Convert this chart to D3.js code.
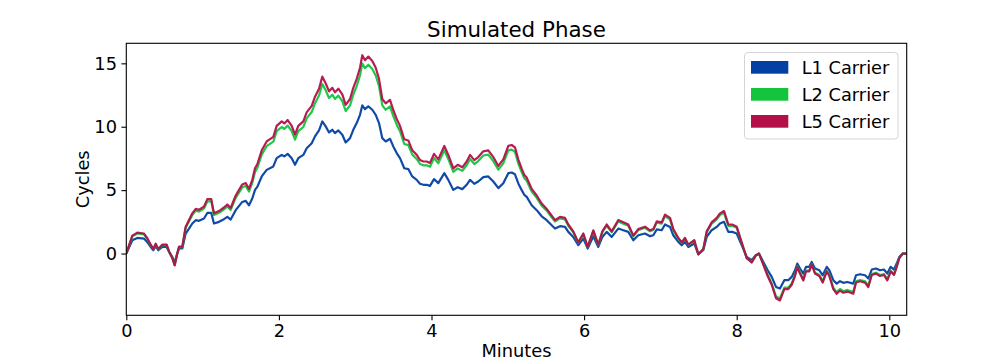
<!DOCTYPE html>
<html>
<head>
<meta charset="utf-8">
<script src="https://cdn.jsdelivr.net/npm/d3@7"></script>
<style>
  html, body { margin: 0; padding: 0; background: #fff; }
  svg { display: block; font-family: "DejaVu Sans", sans-serif; }
</style>
</head>
<body>
<svg id="chart" width="1008" height="360"></svg>
<script>
// ---- data ----
const timeMin = [0.000,0.079,0.144,0.232,0.275,0.320,0.354,0.385,0.419,0.472,0.529,0.560,0.603,0.634,0.668,0.691,0.734,0.778,0.822,0.865,
0.910,0.953,1.018,1.062,1.114,1.149,1.215,1.280,1.324,1.368,1.434,1.520,1.565,1.608,1.651,1.687,1.717,1.775,1.840,1.927,
1.971,2.037,2.071,2.115,2.168,2.211,2.254,2.320,2.364,2.430,2.473,2.526,2.569,2.613,2.657,2.700,2.735,2.779,2.831,2.875,
2.932,2.975,3.020,3.063,3.093,3.128,3.172,3.224,3.269,3.312,3.355,3.400,3.456,3.499,3.544,3.587,3.643,3.696,3.748,3.806,
3.849,3.893,3.937,3.980,4.033,4.089,4.168,4.220,4.286,4.343,4.404,4.461,4.505,4.561,4.613,4.679,4.744,4.810,4.876,4.941,
5.007,5.051,5.094,5.138,5.182,5.216,5.248,5.313,5.379,5.444,5.510,5.575,5.619,5.684,5.750,5.793,5.858,5.924,5.990,6.047,
6.121,6.186,6.239,6.296,6.362,6.448,6.514,6.579,6.645,6.710,6.798,6.864,6.907,6.952,7.017,7.060,7.126,7.169,7.235,7.279,
7.322,7.366,7.444,7.497,7.562,7.607,7.672,7.738,7.781,7.834,7.890,7.942,8.000,8.065,8.131,8.197,8.249,8.292,8.349,8.406,
8.459,8.515,8.567,8.624,8.676,8.721,8.764,8.794,8.830,8.873,8.908,8.951,8.983,9.026,9.083,9.127,9.180,9.214,9.266,9.311,
9.354,9.397,9.450,9.528,9.564,9.616,9.682,9.725,9.770,9.826,9.878,9.930,9.974,10.018,10.062,10.097,10.131,10.176,10.228];

const l1Carrier = [0.00,1.05,1.23,1.18,0.90,0.52,0.26,0.58,0.26,0.52,0.52,0.13,-0.27,-0.70,0.00,0.40,0.40,1.58,1.97,2.37,
2.63,2.58,2.76,3.20,3.20,2.37,2.50,2.71,2.89,2.68,3.42,4.07,4.15,3.81,4.34,5.02,5.26,6.08,6.60,6.87,
7.52,7.78,7.66,7.86,7.52,7.00,7.52,7.78,8.31,8.70,9.24,9.71,10.42,10.03,9.55,9.76,9.50,9.71,9.37,8.76,
9.10,9.76,10.29,10.94,11.68,11.39,11.60,11.34,10.94,10.29,9.10,8.84,9.05,8.45,7.92,7.52,6.73,6.66,6.08,5.81,
5.50,5.42,5.42,5.34,5.87,5.55,6.34,5.81,5.02,5.23,5.08,5.42,5.81,5.50,5.68,6.02,6.08,5.68,5.16,5.55,
6.34,6.39,6.25,5.53,5.00,4.63,4.47,3.81,3.42,2.94,2.63,2.23,1.97,2.16,2.10,1.71,1.31,0.66,1.18,0.39,
1.37,0.52,1.31,1.71,1.31,1.97,1.84,1.71,1.05,1.44,1.58,1.37,1.44,1.90,1.84,2.29,2.10,1.44,0.92,0.66,
0.92,0.52,0.79,-0.05,0.26,1.31,1.84,2.10,2.37,2.50,1.71,1.71,1.58,0.66,-0.27,-0.53,-0.13,0.00,-0.66,-1.32,
-1.84,-2.63,-2.76,-2.10,-2.10,-1.84,-1.32,-0.79,-1.18,-1.58,-1.05,-1.05,-0.66,-1.18,-1.32,-1.71,-1.05,-1.32,-2.10,-2.37,
-2.18,-2.31,-2.24,-2.37,-1.71,-1.63,-1.71,-1.97,-1.26,-1.18,-1.32,-1.26,-1.58,-1.05,-1.26,-0.79,-0.27,0.00,0.00];

const l2Carrier = [0.00,1.35,1.58,1.51,1.15,0.67,0.33,0.74,0.33,0.67,0.67,0.17,-0.35,-0.90,0.00,0.51,0.51,2.03,2.53,3.04,
3.38,3.31,3.54,4.11,4.11,3.04,3.21,3.48,3.71,3.44,4.39,5.22,5.33,4.89,5.57,6.44,6.75,7.80,8.47,8.82,
9.65,9.98,9.83,10.09,9.65,8.98,9.65,9.98,10.66,11.16,11.86,12.46,13.37,12.87,12.26,12.53,12.19,12.46,12.02,11.24,
11.68,12.53,13.21,14.04,14.99,14.62,14.89,14.55,14.04,13.21,11.68,11.34,11.61,10.84,10.16,9.65,8.64,8.55,7.80,7.46,
7.06,6.96,6.96,6.85,7.53,7.12,8.14,7.46,6.44,6.71,6.52,6.96,7.46,7.06,7.29,7.73,7.80,7.29,6.62,7.12,
8.14,8.20,8.02,7.10,6.42,5.94,5.74,4.89,4.39,3.77,3.38,2.86,2.53,2.77,2.69,2.19,1.68,0.85,1.51,0.50,
1.76,0.67,1.68,2.19,1.68,2.53,2.36,2.19,1.35,1.85,2.03,1.76,1.85,2.44,2.36,2.94,2.69,1.85,1.18,0.85,
1.18,0.67,1.01,-0.06,0.33,1.68,2.36,2.69,3.04,3.21,2.19,2.19,2.03,0.85,-0.35,-0.68,-0.17,0.00,-0.85,-1.69,
-2.36,-3.38,-3.54,-2.69,-2.69,-2.36,-1.69,-1.01,-1.51,-2.03,-1.35,-1.35,-0.85,-1.51,-1.69,-2.19,-1.35,-1.69,-2.69,-3.04,
-2.80,-2.96,-2.87,-3.04,-2.19,-2.09,-2.19,-2.53,-1.62,-1.51,-1.69,-1.62,-2.03,-1.35,-1.62,-1.01,-0.35,0.00,0.00];

const l5Carrier = [0.00,1.41,1.65,1.58,1.21,0.70,0.35,0.78,0.35,0.70,0.70,0.17,-0.36,-0.94,0.00,0.54,0.54,2.12,2.64,3.17,
3.52,3.45,3.70,4.29,4.29,3.17,3.35,3.63,3.87,3.59,4.58,5.45,5.56,5.10,5.81,6.72,7.04,8.14,8.84,9.20,
10.07,10.42,10.26,10.53,10.07,9.37,10.07,10.42,11.13,11.65,12.37,13.00,13.95,13.43,12.79,13.07,12.72,13.00,12.55,11.73,
12.19,13.07,13.78,14.65,15.64,15.25,15.53,15.19,14.65,13.78,12.19,11.84,12.12,11.32,10.61,10.07,9.01,8.92,8.14,7.78,
7.37,7.26,7.26,7.15,7.86,7.43,8.49,7.78,6.72,7.00,6.80,7.26,7.78,7.37,7.61,8.06,8.14,7.61,6.91,7.43,
8.49,8.56,8.37,7.41,6.70,6.20,5.99,5.10,4.58,3.94,3.52,2.99,2.64,2.89,2.81,2.29,1.75,0.88,1.58,0.52,
1.83,0.70,1.75,2.29,1.75,2.64,2.46,2.29,1.41,1.93,2.12,1.83,1.93,2.54,2.46,3.07,2.81,1.93,1.23,0.88,
1.23,0.70,1.06,-0.07,0.35,1.75,2.46,2.81,3.17,3.35,2.29,2.29,2.12,0.88,-0.36,-0.71,-0.17,0.00,-0.88,-1.77,
-2.46,-3.52,-3.70,-2.81,-2.81,-2.46,-1.77,-1.06,-1.58,-2.12,-1.41,-1.41,-0.88,-1.58,-1.77,-2.29,-1.41,-1.77,-2.81,-3.17,
-2.92,-3.09,-3.00,-3.17,-2.29,-2.18,-2.29,-2.64,-1.69,-1.58,-1.77,-1.69,-2.12,-1.41,-1.69,-1.06,-0.36,0.00,0.00];

const seriesNames = ["L1 Carrier", "L2 Carrier", "L5 Carrier"];
const seriesColors = ["#0340a3", "#12c53c", "#b3104a"];
const xTicks = [0, 2, 4, 6, 8, 10];
const yTicks = [0, 5, 10, 15];
const xDomain = [0, 10.228];
const yDomain = [-4.87, 16.58];
const titleText = "Simulated Phase";
const xLabel = "Minutes";
const yLabel = "Cycles";

// ---- layout ----
const margin = { left: 126.3, right: 1008 - 906.7, top: 43.3, bottom: 360 - 315.3 };
const W = 1008, H = 360;
const svg = d3.select("#chart");
const x = d3.scaleLinear().domain(xDomain).range([margin.left, W - margin.right]);
const y = d3.scaleLinear().domain(yDomain).range([H - margin.bottom, margin.top]);

const allSeries = [l1Carrier, l2Carrier, l5Carrier];

const plot = svg.append("g");
svg.append("clipPath").attr("id", "clip").append("rect")
  .attr("x", margin.left).attr("y", margin.top)
  .attr("width", W - margin.left - margin.right).attr("height", H - margin.top - margin.bottom);

const line = d3.line().x((d, i) => x(timeMin[i])).y(d => y(d));
allSeries.forEach((s, k) => {
  plot.append("path")
    .attr("d", line(s))
    .attr("fill", "none")
    .attr("stroke", seriesColors[k])
    .attr("stroke-width", 2.2)
    .attr("stroke-linejoin", "round")
    .attr("clip-path", "url(#clip)")
    .attr("opacity", 0.95);
});

// axes
const fs = 17.8;
const xAxis = svg.append("g").attr("transform", `translate(0,${H - margin.bottom})`)
  .call(d3.axisBottom(x).tickValues(xTicks).tickFormat(d3.format("d")).tickSize(4.9).tickPadding(4.4));
const yAxis = svg.append("g").attr("transform", `translate(${margin.left},0)`)
  .call(d3.axisLeft(y).tickValues(yTicks).tickFormat(d3.format("d")).tickSize(4.9).tickPadding(4.4));
[xAxis, yAxis].forEach(a => {
  a.select(".domain").remove();
  a.selectAll(".tick line").attr("stroke", "#000").attr("stroke-width", 1.1);
  a.selectAll(".tick text").attr("fill", "#000").style("font-size", fs + "px")
    .style("font-family", "DejaVu Sans, sans-serif");
});

// frame
svg.append("rect")
  .attr("x", margin.left).attr("y", margin.top)
  .attr("width", W - margin.left - margin.right).attr("height", H - margin.top - margin.bottom)
  .attr("fill", "none").attr("stroke", "#000").attr("stroke-width", 1.1);

// title & labels
svg.append("text").attr("x", (margin.left + W - margin.right) / 2).attr("y", 36.7)
  .attr("text-anchor", "middle").style("font-size", "21.4px").text(titleText);
svg.append("text").attr("x", (margin.left + W - margin.right) / 2).attr("y", 357)
  .attr("text-anchor", "middle").style("font-size", fs + "px").text(xLabel);
svg.append("text")
  .attr("transform", `translate(89,${(margin.top + H - margin.bottom) / 2}) rotate(-90)`)
  .attr("text-anchor", "middle").style("font-size", fs + "px").text(yLabel);

// legend
const lg = svg.append("g");
lg.append("rect").attr("x", 744.5).attr("y", 52.5).attr("width", 153.5).attr("height", 86.5)
  .attr("rx", 3.5).attr("fill", "rgba(255,255,255,0.8)").attr("stroke", "#d5d5d5").attr("stroke-width", 1);
seriesNames.forEach((n, i) => {
  const yy = 61 + i * 27;
  lg.append("rect").attr("x", 751).attr("y", yy).attr("width", 37.3).attr("height", 12.7)
    .attr("fill", seriesColors[i]);
  lg.append("text").attr("x", 801.7).attr("y", yy + 12.8).style("font-size", fs + "px").text(n);
});
</script>
</body>
</html>
